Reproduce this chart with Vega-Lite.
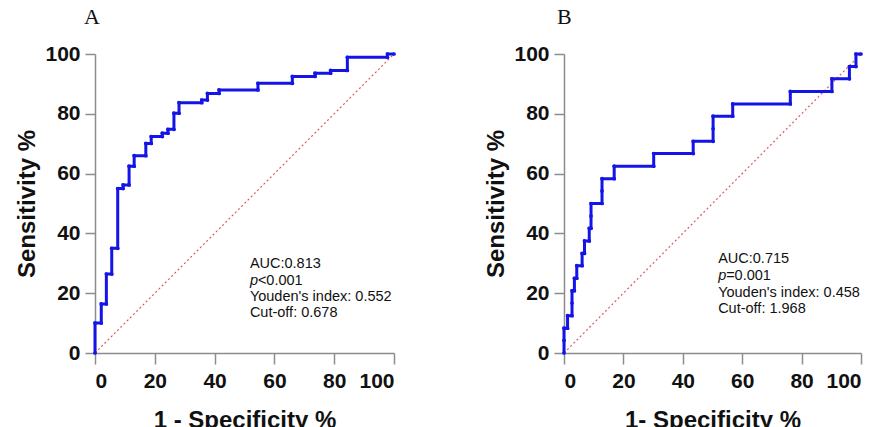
{
  "$schema": "https://vega.github.io/schema/vega-lite/v6.json",
  "background": "white",
  "padding": {"left": 15, "top": 6, "right": 5, "bottom": 5},
  "bounds": "flush",
  "spacing": 170,
  "datasets": {
    "rocA": [
      {"i":0,"x":0,"y":0},{"i":1,"x":0,"y":10},{"i":2,"x":2.1,"y":10},{"i":3,"x":2.1,"y":16.4},{"i":4,"x":3.8,"y":16.4},{"i":5,"x":3.8,"y":26.4},{"i":6,"x":5.6,"y":26.4},{"i":7,"x":5.6,"y":35},{"i":8,"x":7.6,"y":35},{"i":9,"x":7.6,"y":55},{"i":10,"x":9.4,"y":55},{"i":11,"x":9.4,"y":56.2},{"i":12,"x":11.4,"y":56.2},{"i":13,"x":11.4,"y":62.5},{"i":14,"x":13.1,"y":62.5},{"i":15,"x":13.1,"y":66},{"i":16,"x":17,"y":66},{"i":17,"x":17,"y":70.1},{"i":18,"x":18.8,"y":70.1},{"i":19,"x":18.8,"y":72.4},{"i":20,"x":22.5,"y":72.4},{"i":21,"x":22.5,"y":73.5},{"i":22,"x":24.4,"y":73.5},{"i":23,"x":24.4,"y":74.8},{"i":24,"x":26.4,"y":74.8},{"i":25,"x":26.4,"y":80.2},{"i":26,"x":28.1,"y":80.2},{"i":27,"x":28.1,"y":83.7},{"i":28,"x":35.7,"y":83.7},{"i":29,"x":35.7,"y":84.6},{"i":30,"x":37.6,"y":84.6},{"i":31,"x":37.6,"y":86.8},{"i":32,"x":41.5,"y":86.8},{"i":33,"x":41.5,"y":88},{"i":34,"x":54.5,"y":88},{"i":35,"x":54.5,"y":90.2},{"i":36,"x":66,"y":90.2},{"i":37,"x":66,"y":92.5},{"i":38,"x":73.6,"y":92.5},{"i":39,"x":73.6,"y":93.6},{"i":40,"x":78.8,"y":93.6},{"i":41,"x":78.8,"y":94.5},{"i":42,"x":84.4,"y":94.5},{"i":43,"x":84.4,"y":98.9},{"i":44,"x":97.8,"y":98.9},{"i":45,"x":97.8,"y":100},{"i":46,"x":100,"y":100}
    ],
    "rocB": [
      {"i":0,"x":0,"y":0},{"i":1,"x":0,"y":4.2},{"i":2,"x":0,"y":8.3},{"i":3,"x":1.2,"y":8.3},{"i":4,"x":1.2,"y":12.5},{"i":5,"x":2.7,"y":12.5},{"i":6,"x":2.7,"y":16.7},{"i":7,"x":2.7,"y":20.8},{"i":8,"x":3.5,"y":20.8},{"i":9,"x":3.5,"y":25},{"i":10,"x":4.3,"y":25},{"i":11,"x":4.3,"y":29.2},{"i":12,"x":6.1,"y":29.2},{"i":13,"x":6.1,"y":33.3},{"i":14,"x":6.9,"y":33.3},{"i":15,"x":6.9,"y":37.5},{"i":16,"x":8.5,"y":37.5},{"i":17,"x":8.5,"y":41.7},{"i":18,"x":9.1,"y":41.7},{"i":19,"x":9.1,"y":45.8},{"i":20,"x":9.1,"y":50},{"i":21,"x":12.8,"y":50},{"i":22,"x":12.8,"y":54.2},{"i":23,"x":12.8,"y":58.3},{"i":24,"x":16.9,"y":58.3},{"i":25,"x":16.9,"y":62.5},{"i":26,"x":30.2,"y":62.5},{"i":27,"x":30.2,"y":66.7},{"i":28,"x":43.5,"y":66.7},{"i":29,"x":43.5,"y":70.8},{"i":30,"x":50.2,"y":70.8},{"i":31,"x":50.2,"y":75},{"i":32,"x":50.2,"y":79.2},{"i":33,"x":56.8,"y":79.2},{"i":34,"x":56.8,"y":83.3},{"i":35,"x":76.2,"y":83.3},{"i":36,"x":76.2,"y":87.5},{"i":37,"x":90.2,"y":87.5},{"i":38,"x":90.2,"y":91.7},{"i":39,"x":96.1,"y":91.7},{"i":40,"x":96.1,"y":95.8},{"i":41,"x":98.3,"y":95.8},{"i":42,"x":98.3,"y":100},{"i":43,"x":100,"y":100}
    ],
    "diag": [{"x":0,"y":0},{"x":100,"y":100}],
    "txtA": [
      {"t":"AUC:0.813","x":51.8,"y":29.8},
      {"t":"Youden's index: 0.552","x":51.8,"y":18.6},
      {"t":"Cut-off: 0.678","x":51.8,"y":13.3}
    ],
    "pA": [{"p":"p","rest":"<0.001","x":51.8,"y":24.2}],
    "txtB": [
      {"t":"AUC:0.715","x":51.9,"y":31.3},
      {"t":"Youden's index: 0.458","x":51.9,"y":20.2},
      {"t":"Cut-off: 1.968","x":51.9,"y":14.6}
    ],
    "pB": [{"p":"p","rest":"=0.001","x":51.9,"y":25.8}]
  },
  "config": {
    "view": {"stroke": null},
    "font": "Liberation Sans",
    "axis": {
      "grid": false,
      "domainColor": "#8c8c8c",
      "domainWidth": 1.5,
      "tickColor": "#8c8c8c",
      "tickWidth": 1.5,
      "tickSize": 10,
      "labelFont": "Liberation Sans",
      "labelFontSize": 21,
      "labelFontWeight": "bold",
      "labelColor": "#111111",
      "labelPadding": 5,
      "titleFont": "Liberation Sans",
      "titleFontSize": 24,
      "titleFontWeight": "bold",
      "titleColor": "#111111"
    },
    "axisX": {"tickSize": 11, "labelPadding": 6, "titlePadding": 17},
    "axisY": {"titlePadding": 5},
    "title": {"font": "Liberation Serif", "fontSize": 22, "fontWeight": "normal", "color": "#111111", "anchor": "start", "frame": "group"}
  },
  "hconcat": [
    {
      "width": 299,
      "height": 299,
      "title": {"text": "A", "dx": -11, "offset": 14},
      "layer": [
        {
          "data": {"name": "diag"},
          "mark": {"type": "line", "color": "#d26060", "strokeWidth": 1.2, "strokeDash": [2, 2.5]},
          "encoding": {
            "x": {"field": "x", "type": "quantitative", "scale": {"domain": [0, 100], "nice": false}, "axis": {"values": [0,20,40,60,80,100], "title": "1 - Specificity %"}},
            "y": {"field": "y", "type": "quantitative", "scale": {"domain": [0, 100], "nice": false}, "axis": {"values": [0,20,40,60,80,100], "title": "Sensitivity %"}}
          }
        },
        {
          "data": {"name": "rocA"},
          "mark": {"type": "line", "color": "#1414e6", "strokeWidth": 3},
          "encoding": {
            "x": {"field": "x", "type": "quantitative"},
            "y": {"field": "y", "type": "quantitative"},
            "order": {"field": "i"}
          }
        },
        {
          "data": {"name": "rocA"},
          "mark": {"type": "point", "filled": true, "color": "#1414e6", "size": 14, "opacity": 1},
          "encoding": {
            "x": {"field": "x", "type": "quantitative"},
            "y": {"field": "y", "type": "quantitative"}
          }
        },
        {
          "data": {"name": "txtA"},
          "mark": {"type": "text", "align": "left", "baseline": "middle", "fontSize": 14.5, "color": "#111111"},
          "encoding": {
            "x": {"field": "x", "type": "quantitative"},
            "y": {"field": "y", "type": "quantitative"},
            "text": {"field": "t"}
          }
        },
        {
          "data": {"name": "pA"},
          "mark": {"type": "text", "align": "left", "baseline": "middle", "fontSize": 14.5, "fontStyle": "italic", "color": "#111111"},
          "encoding": {
            "x": {"field": "x", "type": "quantitative"},
            "y": {"field": "y", "type": "quantitative"},
            "text": {"field": "p"}
          }
        },
        {
          "data": {"name": "pA"},
          "mark": {"type": "text", "align": "left", "baseline": "middle", "fontSize": 14.5, "dx": 8, "color": "#111111"},
          "encoding": {
            "x": {"field": "x", "type": "quantitative"},
            "y": {"field": "y", "type": "quantitative"},
            "text": {"field": "rest"}
          }
        }
      ]
    },
    {
      "width": 297,
      "height": 299,
      "title": {"text": "B", "dx": -7, "offset": 14},
      "layer": [
        {
          "data": {"name": "diag"},
          "mark": {"type": "line", "color": "#d26060", "strokeWidth": 1.2, "strokeDash": [2, 2.5]},
          "encoding": {
            "x": {"field": "x", "type": "quantitative", "scale": {"domain": [0, 100], "nice": false}, "axis": {"values": [0,20,40,60,80,100], "title": "1- Specificity %"}},
            "y": {"field": "y", "type": "quantitative", "scale": {"domain": [0, 100], "nice": false}, "axis": {"values": [0,20,40,60,80,100], "title": "Sensitivity %"}}
          }
        },
        {
          "data": {"name": "rocB"},
          "mark": {"type": "line", "color": "#1414e6", "strokeWidth": 3},
          "encoding": {
            "x": {"field": "x", "type": "quantitative"},
            "y": {"field": "y", "type": "quantitative"},
            "order": {"field": "i"}
          }
        },
        {
          "data": {"name": "rocB"},
          "mark": {"type": "point", "filled": true, "color": "#1414e6", "size": 14, "opacity": 1},
          "encoding": {
            "x": {"field": "x", "type": "quantitative"},
            "y": {"field": "y", "type": "quantitative"}
          }
        },
        {
          "data": {"name": "txtB"},
          "mark": {"type": "text", "align": "left", "baseline": "middle", "fontSize": 14.5, "color": "#111111"},
          "encoding": {
            "x": {"field": "x", "type": "quantitative"},
            "y": {"field": "y", "type": "quantitative"},
            "text": {"field": "t"}
          }
        },
        {
          "data": {"name": "pB"},
          "mark": {"type": "text", "align": "left", "baseline": "middle", "fontSize": 14.5, "fontStyle": "italic", "color": "#111111"},
          "encoding": {
            "x": {"field": "x", "type": "quantitative"},
            "y": {"field": "y", "type": "quantitative"},
            "text": {"field": "p"}
          }
        },
        {
          "data": {"name": "pB"},
          "mark": {"type": "text", "align": "left", "baseline": "middle", "fontSize": 14.5, "dx": 8, "color": "#111111"},
          "encoding": {
            "x": {"field": "x", "type": "quantitative"},
            "y": {"field": "y", "type": "quantitative"},
            "text": {"field": "rest"}
          }
        }
      ]
    }
  ]
}
